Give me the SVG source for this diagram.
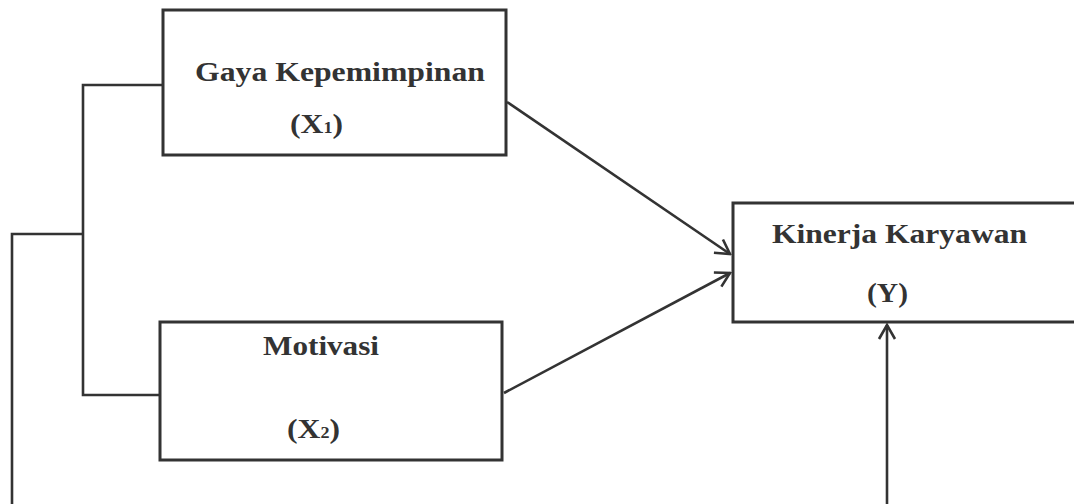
<svg xmlns="http://www.w3.org/2000/svg" width="1074" height="504" viewBox="0 0 1074 504">
<style>
.box{fill:none;stroke:#333;stroke-width:3}
.ln{fill:none;stroke:#333;stroke-width:2.6}
.t{font-family:"Liberation Serif","Times New Roman",serif;font-weight:bold;font-size:28px;fill:#333}
</style>
<defs>
<marker id="ah" viewBox="0 0 20 20" refX="18" refY="10" markerWidth="20" markerHeight="20" markerUnits="userSpaceOnUse" orient="auto">
<path d="M4,2 L18,10 L4,18" fill="none" stroke="#333" stroke-width="2.6"/>
</marker>
</defs>
<rect width="1074" height="504" fill="#fff"/>
<g id="connectors">
<polyline class="ln" points="163,85 83,85 83,395 160,395"/>
<polyline class="ln" points="83,234 12,234 12,504"/>
<line class="ln" x1="507" y1="102" x2="730" y2="254" marker-end="url(#ah)"/>
<line class="ln" x1="504" y1="393" x2="730" y2="273" marker-end="url(#ah)"/>
<line class="ln" x1="887" y1="504" x2="887" y2="325" marker-end="url(#ah)"/>
</g>
<g id="x1">
<rect class="box" x="163" y="10" width="343" height="145"/>
<text class="t" x="195" y="81" textLength="290" lengthAdjust="spacingAndGlyphs">Gaya Kepemimpinan</text>
<text class="t" x="290" y="133" textLength="53" lengthAdjust="spacingAndGlyphs">(X<tspan font-size="16">1</tspan>)</text>
</g>
<g id="x2">
<rect class="box" x="160" y="322" width="342" height="138"/>
<text class="t" x="263" y="355" textLength="116" lengthAdjust="spacingAndGlyphs">Motivasi</text>
<text class="t" x="287" y="438" textLength="53" lengthAdjust="spacingAndGlyphs">(X<tspan font-size="16">2</tspan>)</text>
</g>
<g id="y">
<rect class="box" x="733" y="203" width="345" height="119"/>
<text class="t" x="772" y="243" textLength="255" lengthAdjust="spacingAndGlyphs">Kinerja Karyawan</text>
<text class="t" x="867" y="302" textLength="41" lengthAdjust="spacingAndGlyphs">(Y)</text>
</g>
</svg>
